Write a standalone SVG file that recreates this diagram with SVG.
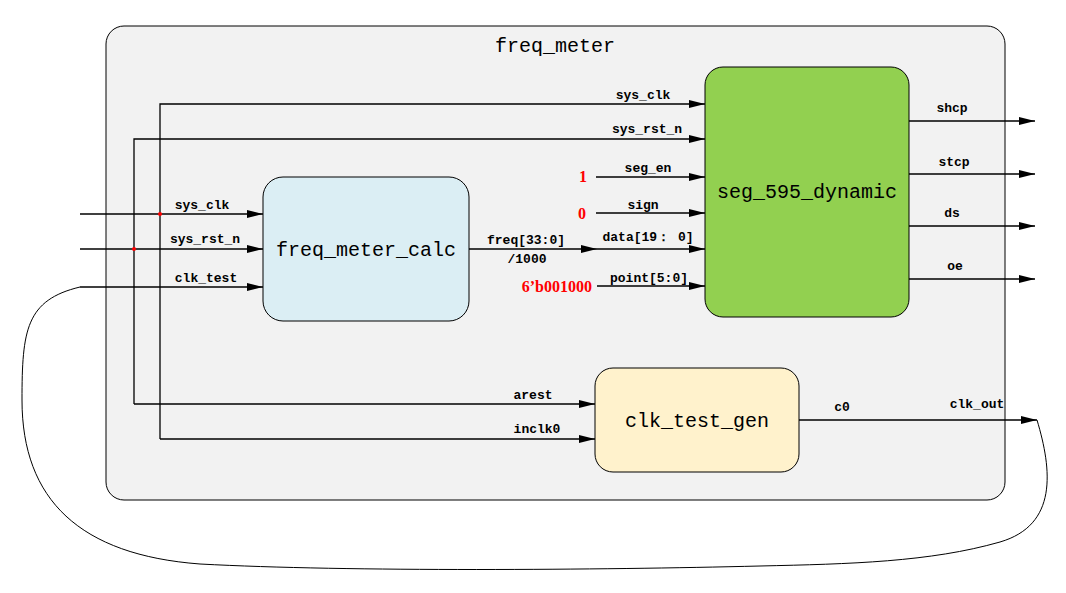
<svg xmlns="http://www.w3.org/2000/svg" width="1066" height="593" viewBox="0 0 1066 593">
<defs>
<marker id="arr" viewBox="0 0 16 8" refX="16" refY="4" markerWidth="16" markerHeight="8" markerUnits="userSpaceOnUse" orient="auto">
<path d="M0,0 L16,4 L0,8 Z" fill="#000"/>
</marker>
<style>
.lbl{font-family:"Liberation Mono","DejaVu Sans Mono",monospace;font-size:13px;font-weight:bold;fill:#000;text-anchor:middle}
.big{font-family:"Liberation Mono","DejaVu Sans Mono",monospace;font-size:20px;fill:#000;text-anchor:middle}
.red{font-family:"Liberation Serif","DejaVu Serif",serif;font-size:16px;font-weight:bold;fill:#ff0000;text-anchor:end}
.w{fill:none;stroke:#000;stroke-width:1.3}
.box{stroke:#000;stroke-width:1}
</style>
</defs>
<rect width="1066" height="593" fill="#fff"/>
<g id="freq_meter">
<rect x="106" y="26" width="899" height="474" rx="18" fill="#f2f2f2" class="box"/>
<text x="555" y="52" class="big">freq_meter</text>
</g>
<g id="freq_meter_calc">
<rect x="263" y="177" width="206" height="144" rx="20" fill="#dbeef4" class="box"/>
<text x="366" y="256" class="big">freq_meter_calc</text>
</g>
<g id="seg_595_dynamic">
<rect x="705" y="67" width="204" height="250" rx="18" fill="#92d050" class="box"/>
<text x="807" y="198" class="big">seg_595_dynamic</text>
</g>
<g id="clk_test_gen">
<rect x="595" y="368" width="204" height="104" rx="18" fill="#fff2cc" class="box"/>
<text x="697" y="427" class="big">clk_test_gen</text>
</g>
<g id="connectors">
<path class="w" d="M80,214 H263" marker-end="url(#arr)"/>
<path class="w" d="M80,249 H263" marker-end="url(#arr)"/>
<path class="w" d="M80,287 H263" marker-end="url(#arr)"/>
<path class="w" d="M160,439 V104 H705" marker-end="url(#arr)"/>
<path class="w" d="M134,404 V139 H705" marker-end="url(#arr)"/>
<path class="w" d="M134,404 H595" marker-end="url(#arr)"/>
<path class="w" d="M160,439 H595" marker-end="url(#arr)"/>
<circle cx="160" cy="214" r="2" fill="#ff0000"/>
<circle cx="134" cy="249" r="2" fill="#ff0000"/>
<path class="w" d="M596,177 H705" marker-end="url(#arr)"/>
<path class="w" d="M596,213 H705" marker-end="url(#arr)"/>
<path class="w" d="M469,249 H597" marker-end="url(#arr)"/>
<path class="w" d="M597,249 H705" marker-end="url(#arr)"/>
<path class="w" d="M597,286 H705" marker-end="url(#arr)"/>
<path class="w" d="M909,121 H1035" marker-end="url(#arr)"/>
<path class="w" d="M909,174 H1035" marker-end="url(#arr)"/>
<path class="w" d="M909,226 H1035" marker-end="url(#arr)"/>
<path class="w" d="M909,279 H1035" marker-end="url(#arr)"/>
<path class="w" d="M799,420 H1037" marker-end="url(#arr)"/>
<path fill="none" stroke="#000" stroke-width="1" d="M1037,420 C1052,470 1058,525 1000,542 C930,562 850,564 760,566 C600,570 350,572 200,564 C80,555 22,500 22,400 C22,330 26,300 80,287"/>
</g>
<g id="labels">
<text x="202" y="209" class="lbl">sys_clk</text>
<text x="205" y="243" class="lbl">sys_rst_n</text>
<text x="206" y="282" class="lbl">clk_test</text>
<text x="643" y="99" class="lbl">sys_clk</text>
<text x="647" y="133" class="lbl">sys_rst_n</text>
<text x="648" y="172" class="lbl">seg_en</text>
<text x="643" y="209" class="lbl">sign</text>
<text x="648" y="241" class="lbl">data[19： 0]</text>
<text x="649" y="282" class="lbl">point[5:0]</text>
<text x="526" y="244" class="lbl">freq[33:0]</text>
<text x="527" y="263" class="lbl">/1000</text>
<text x="533" y="399" class="lbl">arest</text>
<text x="537" y="433" class="lbl">inclk0</text>
<text x="952" y="112" class="lbl">shcp</text>
<text x="954" y="166" class="lbl">stcp</text>
<text x="952" y="217" class="lbl">ds</text>
<text x="955" y="270" class="lbl">oe</text>
<text x="842" y="411" class="lbl">c0</text>
<text x="977" y="408" class="lbl">clk_out</text>
<text x="587" y="182" class="red">1</text>
<text x="586" y="219" class="red">0</text>
<text x="592" y="292" class="red">6’b001000</text>
</g>
</svg>
